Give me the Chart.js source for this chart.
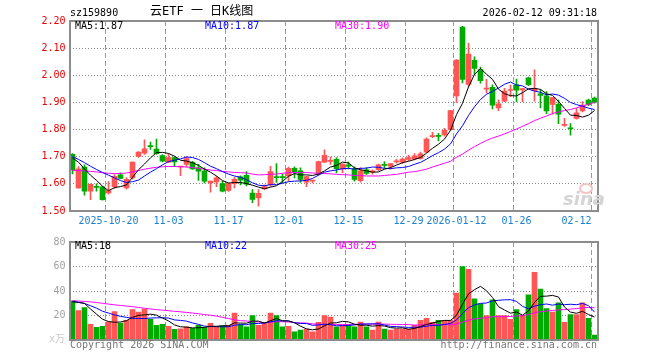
<!DOCTYPE html>
<html lang="zh">
<head>
<meta charset="UTF-8">
<title>云ETF 一 日K线图</title>
<style>
  body { margin: 0; background: #fff; }
  #wrap { position: relative; width: 660px; height: 360px; font-family: "DejaVu Sans Mono", monospace; font-size: 10px; }
  #wrap canvas { position: absolute; left: 0; }
  .t { position: absolute; white-space: pre; line-height: 12px; }
</style>
<script src="https://cdn.jsdelivr.net/npm/chart.js"></script>
</head>
<body>
<div id="wrap">
  <canvas id="kline" width="660" height="232" style="top:0"></canvas>
  <canvas id="vol" width="660" height="128" style="top:232px"></canvas>

  <div class="t" style="left:70px;top:7px">sz159890</div>
  <div class="t" style="left:150px;top:4px;font-size:12px;line-height:14px;font-family:'DejaVu Sans Mono','Noto Sans CJK SC'">云ETF 一 日K线图</div>
  <div class="t" style="right:63px;top:7px">2026-02-12 09:31:18</div>

  <div class="t" style="left:75px;top:20px;color:#000">MA5:1.87</div>
  <div class="t" style="left:205px;top:20px;color:#0000ff">MA10:1.87</div>
  <div class="t" style="left:335px;top:20px;color:#ff00ff">MA30:1.90</div>

  <div class="t" style="left:75px;top:240px;color:#000">MA5:18</div>
  <div class="t" style="left:205px;top:240px;color:#0000ff">MA10:22</div>
  <div class="t" style="left:335px;top:240px;color:#ff00ff">MA30:25</div>

  <div class="t" style="left:49px;top:333px;color:#c8c8c8;font-family:'DejaVu Sans Mono','Noto Sans CJK SC'">x万</div>
  <div class="t" style="left:70px;top:339px;color:#777">Copyright 2026 SINA.COM</div>
  <div class="t" style="right:63px;top:339px;color:#777">http://finance.sina.com.cn</div>

  <div style="position:absolute;left:579px;top:183px;width:10px;height:7px;border:2px solid #f4c4c4;border-radius:50%"></div>
  <div class="t" style="left:563px;top:188px;font:italic bold 18px 'DejaVu Sans';color:#d4d4d4">sina</div>
</div>

<script>
// trading days 2025-10-10 .. 2026-02-12
const dates = [
  '10-10','10-13','10-14','10-15','10-16','10-17','10-20','10-21','10-22','10-23',
  '10-24','10-27','10-28','10-29','10-30','10-31','11-03','11-04','11-05','11-06',
  '11-07','11-10','11-11','11-12','11-13','11-14','11-17','11-18','11-19','11-20',
  '11-21','11-24','11-25','11-26','11-27','11-28','12-01','12-02','12-03','12-04',
  '12-05','12-08','12-09','12-10','12-11','12-12','12-15','12-16','12-17','12-18',
  '12-19','12-22','12-23','12-24','12-25','12-26','12-29','12-30','12-31','01-05',
  '01-06','01-07','01-08','01-09','01-12','01-13','01-14','01-15','01-16','01-19',
  '01-20','01-21','01-22','01-23','01-26','01-27','01-28','01-29','01-30','02-02',
  '02-03','02-04','02-05','02-06','02-09','02-10','02-11','02-12'
];
const tickIdx = [6, 16, 26, 36, 46, 56, 64, 74, 87];
const tickText = ['2025-10-20', '11-03', '11-17', '12-01', '12-15', '12-29', '2026-01-12', '01-26', '02-12'];

const opens = [
  1.709,1.585,1.662,1.573,1.590,1.589,1.567,1.590,1.633,1.585,
  1.622,1.701,1.713,1.740,1.728,1.704,1.680,1.697,1.662,1.672,
  1.679,1.659,1.647,1.603,1.607,1.601,1.576,1.601,1.626,1.631,
  1.566,1.548,1.581,1.597,1.626,1.626,1.629,1.657,1.648,1.606,
  1.610,1.638,1.680,1.683,1.690,1.655,1.670,1.656,1.612,1.652,
  1.643,1.652,1.671,1.665,1.681,1.680,1.690,1.692,1.694,1.717,
  1.774,1.778,1.780,1.800,1.924,2.178,1.966,2.055,2.021,1.949,
  1.956,1.880,1.905,1.944,1.965,1.946,1.991,1.943,1.932,1.924,
  1.893,1.893,1.815,1.805,1.841,1.869,1.909,1.916
];
const closes = [
  1.651,1.655,1.573,1.598,1.587,1.542,1.575,1.628,1.620,1.617,
  1.680,1.717,1.729,1.737,1.711,1.684,1.697,1.681,1.664,1.693,
  1.655,1.647,1.610,1.610,1.622,1.573,1.601,1.617,1.614,1.599,
  1.543,1.565,1.590,1.645,1.623,1.623,1.657,1.644,1.616,1.627,
  1.612,1.682,1.705,1.686,1.656,1.673,1.665,1.616,1.648,1.638,
  1.648,1.670,1.668,1.675,1.684,1.691,1.697,1.703,1.711,1.765,
  1.777,1.775,1.797,1.870,2.056,1.985,2.078,2.025,1.980,1.953,
  1.890,1.895,1.942,1.947,1.945,1.951,1.965,1.951,1.926,1.869,
  1.918,1.857,1.819,1.803,1.862,1.890,1.893,1.901
];
const highs = [
  1.712,1.664,1.670,1.600,1.600,1.592,1.608,1.634,1.641,1.623,
  1.681,1.719,1.762,1.754,1.765,1.708,1.712,1.700,1.664,1.700,
  1.683,1.672,1.659,1.610,1.628,1.610,1.603,1.624,1.630,1.645,
  1.579,1.579,1.596,1.665,1.675,1.635,1.662,1.663,1.659,1.628,
  1.614,1.684,1.725,1.699,1.697,1.674,1.680,1.663,1.660,1.660,
  1.652,1.673,1.682,1.676,1.690,1.696,1.705,1.712,1.717,1.770,
  1.790,1.786,1.805,1.871,2.058,2.180,2.118,2.068,2.030,1.985,
  1.965,1.910,1.952,1.964,1.986,1.952,1.993,2.020,1.946,1.940,
  1.919,1.909,1.841,1.822,1.878,1.903,1.912,1.920
];
const lows = [
  1.637,1.583,1.558,1.542,1.573,1.540,1.562,1.583,1.618,1.580,
  1.617,1.697,1.708,1.727,1.708,1.681,1.678,1.663,1.630,1.662,
  1.653,1.613,1.603,1.569,1.590,1.570,1.572,1.585,1.596,1.592,
  1.531,1.518,1.579,1.591,1.605,1.604,1.610,1.622,1.605,1.590,
  1.603,1.632,1.678,1.672,1.640,1.640,1.655,1.610,1.606,1.635,
  1.636,1.648,1.660,1.654,1.676,1.674,1.685,1.688,1.691,1.715,
  1.770,1.758,1.776,1.797,1.900,1.972,1.960,2.002,1.971,1.935,
  1.876,1.870,1.903,1.921,1.903,1.903,1.962,1.905,1.880,1.859,
  1.857,1.822,1.812,1.779,1.838,1.865,1.888,1.897
];

const ma5 = [
  1.695,1.680,1.655,1.632,1.613,1.591,1.575,1.586,1.590,1.596,
  1.624,1.652,1.673,1.696,1.715,1.716,1.712,1.702,1.687,1.684,
  1.678,1.668,1.654,1.643,1.629,1.612,1.603,1.605,1.605,1.601,
  1.595,1.588,1.582,1.588,1.593,1.609,1.628,1.638,1.633,1.633,
  1.631,1.636,1.648,1.662,1.668,1.680,1.677,1.659,1.652,1.648,
  1.643,1.644,1.654,1.660,1.669,1.678,1.683,1.690,1.697,1.713,
  1.731,1.746,1.765,1.797,1.855,1.897,1.957,2.003,2.025,2.004,
  1.985,1.949,1.932,1.925,1.924,1.936,1.950,1.952,1.948,1.932,
  1.926,1.904,1.878,1.853,1.852,1.846,1.853,1.870
];
const ma10 = [
  1.700,1.690,1.678,1.665,1.653,1.642,1.632,1.622,1.612,1.605,
  1.608,1.614,1.629,1.643,1.656,1.670,1.682,1.687,1.692,1.699,
  1.697,1.690,1.678,1.665,1.656,1.645,1.636,1.629,1.624,1.615,
  1.604,1.595,1.593,1.597,1.597,1.602,1.608,1.610,1.611,1.613,
  1.620,1.632,1.643,1.648,1.651,1.656,1.657,1.654,1.657,1.658,
  1.662,1.661,1.657,1.656,1.659,1.660,1.664,1.672,1.679,1.691,
  1.704,1.715,1.728,1.747,1.784,1.814,1.852,1.884,1.911,1.930,
  1.941,1.953,1.967,1.975,1.964,1.961,1.949,1.942,1.937,1.928,
  1.931,1.927,1.915,1.900,1.892,1.886,1.879,1.874
];
const ma30 = [
  1.650,1.649,1.648,1.646,1.644,1.641,1.639,1.638,1.638,1.640,
  1.644,1.649,1.654,1.658,1.661,1.663,1.664,1.664,1.663,1.662,
  1.660,1.657,1.654,1.651,1.649,1.646,1.644,1.642,1.641,1.640,
  1.636,1.633,1.634,1.635,1.636,1.639,1.642,1.642,1.642,1.642,
  1.640,1.639,1.638,1.637,1.635,1.634,1.633,1.631,1.631,1.629,
  1.629,1.629,1.631,1.633,1.635,1.639,1.643,1.645,1.649,1.654,
  1.662,1.669,1.676,1.683,1.698,1.710,1.724,1.737,1.749,1.760,
  1.769,1.776,1.784,1.793,1.802,1.812,1.822,1.833,1.842,1.850,
  1.859,1.865,1.870,1.874,1.880,1.887,1.893,1.900
];

// volume, 万
const volumes = [
  32,24,26.4,12.8,10.4,11.2,14.7,23.2,13.9,16,
  24.8,22.7,25.3,16.8,12,12.8,11.2,8.8,9.1,10.7,
  9.6,12,10.1,13.6,10.9,11.5,12,21.9,12.5,10.7,
  20,12,14,22,20,10.7,11.2,6.7,8,9,
  6.7,14.4,20,18.7,10.7,12,12.5,10.7,14.7,10.7,
  8,14.7,9,8,9,9,9,12,16,17.6,
  14.4,16,16,16,38.4,60,57.6,33.6,29.6,20,
  32.8,20,20,16.8,24.8,20,36.8,55.2,41.6,25.6,
  22.7,30.4,14.4,20.8,20.8,30.4,17.6,4
];
const volMa5 = [
  31.2,30.7,29.9,25.3,21.1,17.0,15.1,14.5,14.7,15.8,
  18.5,20.1,20.5,21.1,20.3,17.9,15.6,12.3,10.8,10.5,
  9.9,10.0,10.3,11.2,11.2,11.6,11.6,14.0,13.8,13.7,
  15.4,15.4,13.8,15.7,17.6,15.7,15.6,14.1,11.3,9.1,
  8.3,9.0,11.6,13.8,14.1,15.2,14.8,12.9,12.1,12.1,
  11.3,11.8,11.4,10.1,9.7,9.9,8.8,9.4,11.0,12.7,
  13.8,15.2,16.0,16.0,20.2,29.3,37.6,41.1,43.8,40.2,
  34.7,27.2,24.5,21.9,22.9,20.3,23.7,30.7,35.7,35.8,
  36.4,35.1,26.9,22.8,21.8,23.4,20.8,18.7
];
const volMa10 = [
  31.5,30.8,29.8,28.0,26.0,23.5,22.0,20.5,19.3,18.5,
  17.7,17.6,17.5,17.9,18.1,18.2,17.9,16.4,16.0,15.4,
  13.9,12.8,11.3,11.0,10.9,10.8,10.8,12.1,12.5,12.5,
  13.5,13.5,13.9,14.8,15.7,15.6,15.5,14.0,13.5,13.4,
  12.0,12.3,12.9,12.5,11.6,11.7,11.9,12.3,12.9,13.1,
  13.2,13.3,12.2,11.1,10.9,10.6,10.3,10.4,10.5,11.2,
  11.9,12.0,12.7,13.5,16.4,21.5,26.4,28.6,29.9,30.2,
  32.0,32.4,32.8,32.9,31.5,27.5,25.4,27.6,28.8,29.4,
  28.4,29.4,28.8,29.2,28.8,29.9,28.0,22.8
];
const volMa30 = [
  32.0,31.8,31.5,31.1,30.6,30.0,29.3,28.7,28.2,27.7,
  27.2,26.6,25.9,25.3,24.8,24.4,23.9,23.4,23.0,22.5,
  22.0,21.4,20.8,20.2,19.5,18.5,17.5,16.5,15.8,15.5,
  15.1,14.7,14.2,14.5,14.9,14.9,14.7,14.2,14.0,13.8,
  13.2,12.9,12.7,12.8,12.7,12.7,12.7,12.8,13.0,13.0,
  12.9,13.0,13.0,12.8,12.7,12.7,12.6,12.2,12.3,12.6,
  12.4,12.5,12.6,12.4,13.0,14.6,16.2,17.1,17.8,18.2,
  19.0,19.2,19.2,19.2,19.6,19.9,20.7,22.2,23.1,23.6,
  24.1,24.6,24.8,25.2,25.6,26.3,26.6,26.3
];

const UP = '#ff5555', DOWN = '#00aa00';
const FRAME = '#8c8c8c', HGRID = '#8c8c8c', VGRID = '#999999';
const mono = { family: 'DejaVu Sans Mono', size: 10 };
const colors = closes.map((c, i) => c >= opens[i] ? UP : DOWN);

// gray frame round the plot area
const frame = {
  id: 'frame',
  afterDraw(chart) {
    const a = chart.chartArea, g = chart.ctx;
    g.save();
    g.setLineDash([]);
    g.strokeStyle = FRAME;
    g.lineWidth = 2;
    g.strokeRect(Math.round(a.left), Math.round(a.top), Math.round(a.right - a.left), Math.round(a.bottom - a.top));
    g.restore();
  }
};

function xScale(showLabels) {
  return {
    type: 'category',
    offset: true,
    afterFit: s => { s.height = showLabels ? 21 : 20; },
    grid: {
      offset: true,
      drawTicks: false,
      lineWidth: 1,
      color: ctx => tickIdx.includes(ctx.index) ? VGRID : 'rgba(0,0,0,0)'
    },
    border: { display: false, dash: [5, 3] },
    ticks: {
      display: showLabels,
      autoSkip: false,
      maxRotation: 0,
      padding: 4,
      color: '#1a82d0',
      font: mono,
      callback: (v, i) => {
        const k = tickIdx.indexOf(i);
        if (k < 0) return '';
        // last label sits left of its grid line
        return k === tickIdx.length - 1 ? tickText[k] + '\u00a0'.repeat(6) : tickText[k];
      }
    }
  };
}

function maLine(data, color) {
  return { type: 'line', data: data, borderColor: color, borderWidth: 1, pointRadius: 0, tension: 0 };
}

const common = {
  responsive: false,
  animation: false,
  events: [],
  plugins: { legend: { display: false }, tooltip: { enabled: false } }
};

new Chart(document.getElementById('kline'), {
  type: 'bar',
  data: {
    labels: dates,
    datasets: [
      maLine(ma5, '#000000'),
      maLine(ma10, '#0000ff'),
      maLine(ma30, '#ff00ff'),
      {
        data: opens.map((o, i) => [o, closes[i]]),
        backgroundColor: colors,
        borderWidth: 0,
        barThickness: 5,
        minBarLength: 1,
        grouped: false
      },
      {
        data: lows.map((l, i) => [l, highs[i]]),
        backgroundColor: colors,
        borderWidth: 0,
        barThickness: 1,
        grouped: false
      }
    ]
  },
  options: {
    ...common,
    layout: { padding: { top: 21, right: 62.5, left: 0, bottom: 0 } },
    scales: {
      x: xScale(true),
      y: {
        min: 1.5,
        max: 2.2,
        afterFit: s => { s.width = 69.5; },
        grid: { color: HGRID, lineWidth: 1, drawTicks: false },
        border: { display: false, dash: [1, 2] },
        ticks: { stepSize: 0.1, padding: 4, color: '#ee0000', font: mono, callback: v => v.toFixed(2) }
      }
    }
  },
  plugins: [frame]
});

new Chart(document.getElementById('vol'), {
  type: 'bar',
  data: {
    labels: dates,
    datasets: [
      maLine(volMa5, '#000000'),
      maLine(volMa10, '#0000ff'),
      maLine(volMa30, '#ff00ff'),
      {
        data: volumes,
        backgroundColor: colors,
        borderWidth: 0,
        barThickness: 5,
        grouped: false
      }
    ]
  },
  options: {
    ...common,
    layout: { padding: { top: 8, right: 62.5, left: 0, bottom: 0 } },
    scales: {
      x: xScale(false),
      y: {
        min: 0,
        max: 80,
        afterFit: s => { s.width = 69.5; },
        grid: { color: HGRID, lineWidth: 1, drawTicks: false },
        border: { display: false, dash: [1, 2] },
        ticks: { stepSize: 20, padding: 4, color: '#a0a0a0', font: mono, callback: v => v === 0 ? '' : v }
      }
    }
  },
  plugins: [frame]
});
</script>
</body>
</html>
